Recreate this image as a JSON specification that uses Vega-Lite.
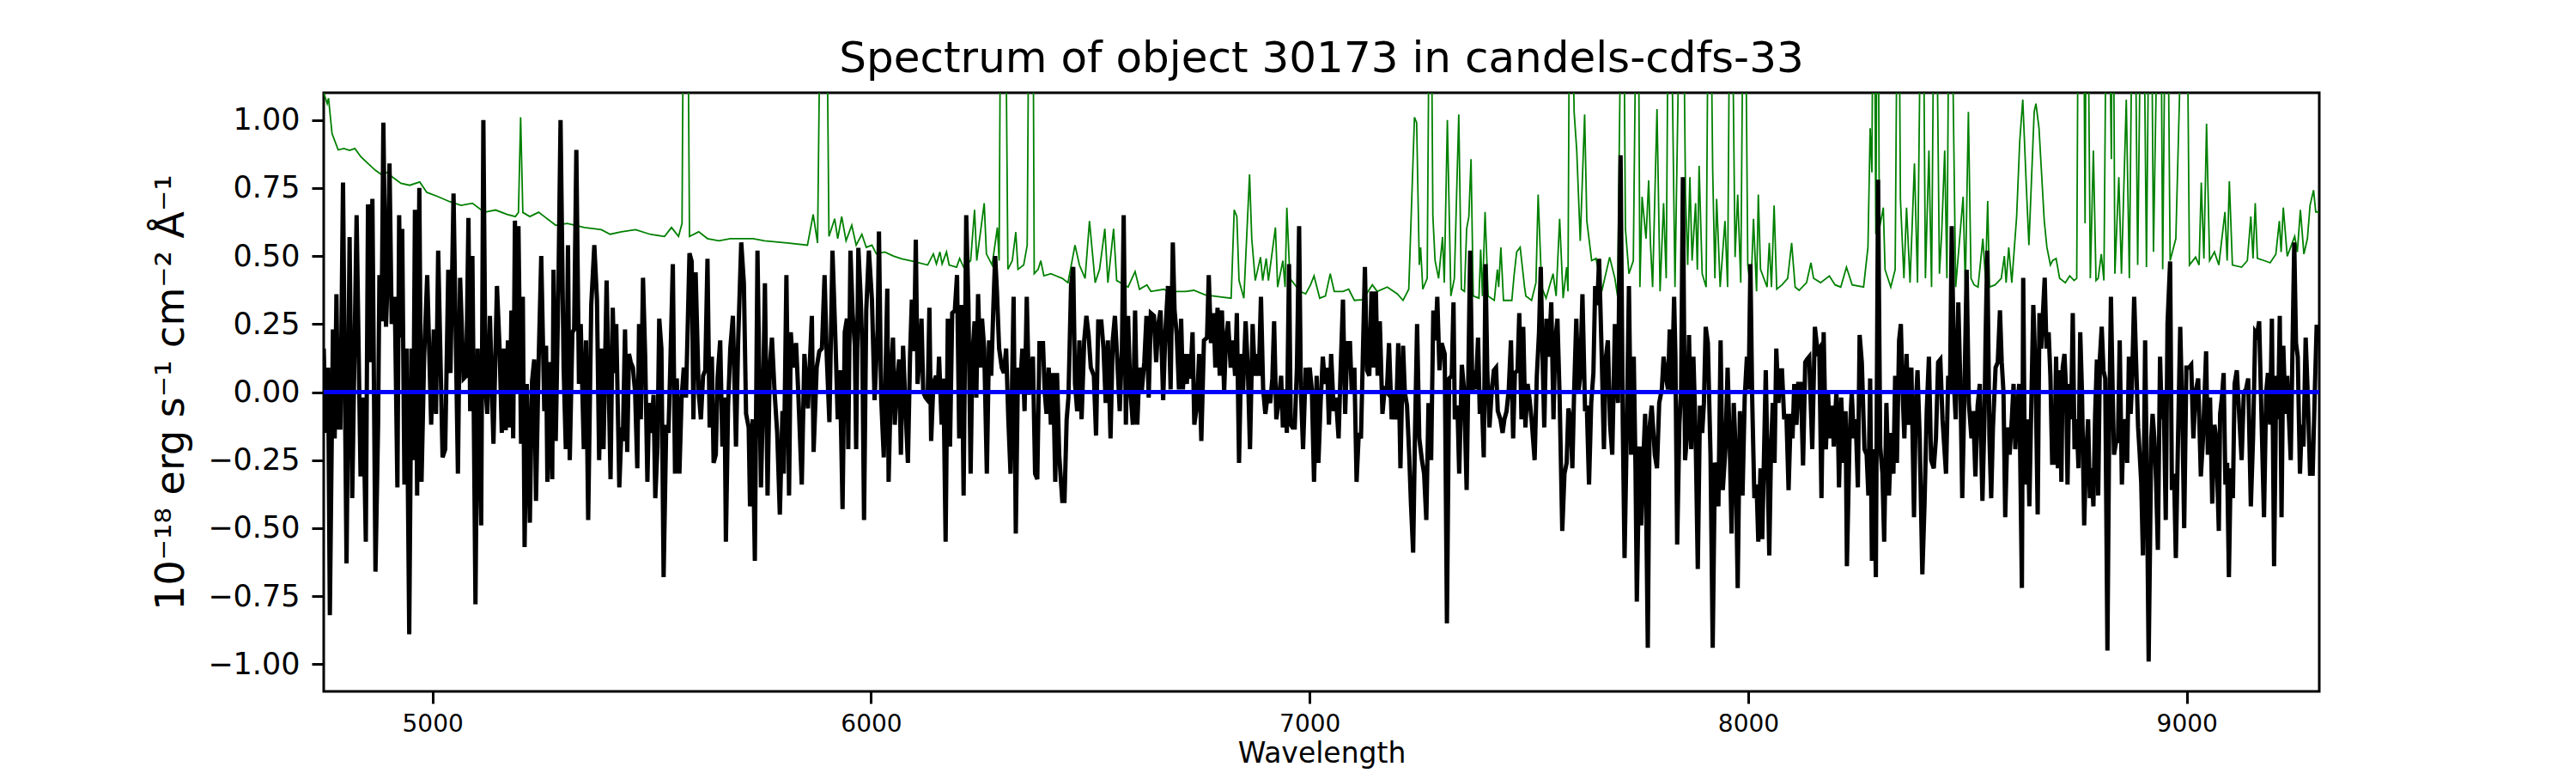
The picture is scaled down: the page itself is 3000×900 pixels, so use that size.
{
  "$schema": "https://vega.github.io/schema/vega-lite/v6.json",
  "width": 2324,
  "height": 697,
  "autosize": {"type": "none"},
  "padding": {"left": 377, "top": 108, "right": 299, "bottom": 95},
  "background": "white",
  "config": {
    "font": "DejaVu Sans",
    "view": {"stroke": "black", "strokeWidth": 3},
    "axis": {
      "grid": false,
      "domain": false,
      "tickColor": "black",
      "tickWidth": 3,
      "tickSize": 14,
      "labelColor": "black",
      "titleColor": "black",
      "labelFont": "DejaVu Sans",
      "titleFont": "DejaVu Sans",
      "titleFontWeight": "normal"
    }
  },
  "title": {
    "text": "Spectrum of object 30173 in candels-cdfs-33",
    "font": "DejaVu Sans",
    "fontSize": 50,
    "fontWeight": "normal",
    "color": "black",
    "anchor": "middle",
    "offset": 14
  },
  "datasets": {
    "spectrum": [
      {"wavelength":4752,"flux":0.16},{"wavelength":4757,"flux":-0.15},{"wavelength":4762,"flux":0.09},{"wavelength":4766,"flux":-0.82},{"wavelength":4773,"flux":0.23},{"wavelength":4777,"flux":-0.17},{"wavelength":4781,"flux":0.36},{"wavelength":4785,"flux":-0.13},{"wavelength":4790,"flux":-0.13},{"wavelength":4796,"flux":0.77},
      {"wavelength":4804,"flux":-0.63},{"wavelength":4811,"flux":0.57},{"wavelength":4817,"flux":-0.39},{"wavelength":4827,"flux":0.65},{"wavelength":4836,"flux":-0.31},{"wavelength":4842,"flux":-0.02},{"wavelength":4848,"flux":-0.55},{"wavelength":4853,"flux":0.69},{"wavelength":4858,"flux":0.11},{"wavelength":4863,"flux":0.71},
      {"wavelength":4870,"flux":-0.66},{"wavelength":4876,"flux":-0.12},{"wavelength":4879,"flux":0.43},{"wavelength":4884,"flux":0.26},{"wavelength":4888,"flux":0.99},{"wavelength":4894,"flux":0.24},{"wavelength":4898,"flux":0.43},{"wavelength":4902,"flux":0.84},{"wavelength":4907,"flux":0.25},{"wavelength":4914,"flux":0.35},
      {"wavelength":4920,"flux":-0.35},{"wavelength":4924,"flux":0.65},{"wavelength":4928,"flux":0.20},{"wavelength":4931,"flux":0.60},{"wavelength":4936,"flux":-0.34},{"wavelength":4941,"flux":0.16},{"wavelength":4947,"flux":-0.89},{"wavelength":4952,"flux":0.16},{"wavelength":4956,"flux":-0.25},{"wavelength":4960,"flux":0.67},
      {"wavelength":4965,"flux":-0.38},{"wavelength":4970,"flux":0.75},{"wavelength":4975,"flux":-0.33},{"wavelength":4981,"flux":0.13},{"wavelength":4988,"flux":0.43},{"wavelength":4997,"flux":-0.12},{"wavelength":5003,"flux":0.23},{"wavelength":5008,"flux":-0.08},{"wavelength":5013,"flux":0.52},{"wavelength":5023,"flux":-0.24},
      {"wavelength":5029,"flux":-0.21},{"wavelength":5036,"flux":0.45},{"wavelength":5041,"flux":0.07},{"wavelength":5048,"flux":0.73},{"wavelength":5058,"flux":-0.30},{"wavelength":5063,"flux":0.42},{"wavelength":5071,"flux":0.05},{"wavelength":5077,"flux":0.06},{"wavelength":5082,"flux":0.64},{"wavelength":5086,"flux":-0.07},
      {"wavelength":5091,"flux":0.50},{"wavelength":5098,"flux":-0.78},{"wavelength":5103,"flux":0.16},{"wavelength":5106,"flux":-0.07},{"wavelength":5111,"flux":-0.49},{"wavelength":5116,"flux":1.00},{"wavelength":5121,"flux":0.01},{"wavelength":5125,"flux":-0.08},{"wavelength":5131,"flux":0.28},{"wavelength":5139,"flux":-0.19},
      {"wavelength":5147,"flux":0.39},{"wavelength":5153,"flux":0.16},{"wavelength":5158,"flux":-0.15},{"wavelength":5163,"flux":0.16},{"wavelength":5167,"flux":-0.14},{"wavelength":5172,"flux":0.19},{"wavelength":5176,"flux":-0.13},{"wavelength":5180,"flux":0.30},{"wavelength":5184,"flux":-0.17},{"wavelength":5188,"flux":0.63},
      {"wavelength":5193,"flux":0.00},{"wavelength":5196,"flux":0.61},{"wavelength":5202,"flux":-0.19},{"wavelength":5206,"flux":0.35},{"wavelength":5210,"flux":-0.57},{"wavelength":5215,"flux":0.03},{"wavelength":5222,"flux":-0.48},{"wavelength":5227,"flux":0.04},{"wavelength":5232,"flux":0.12},{"wavelength":5236,"flux":-0.40},
      {"wavelength":5242,"flux":0.11},{"wavelength":5248,"flux":0.50},{"wavelength":5255,"flux":-0.07},{"wavelength":5259,"flux":0.17},{"wavelength":5262,"flux":-0.33},{"wavelength":5268,"flux":0.11},{"wavelength":5273,"flux":-0.32},{"wavelength":5276,"flux":0.45},{"wavelength":5281,"flux":-0.18},{"wavelength":5287,"flux":0.37},
      {"wavelength":5292,"flux":1.00},{"wavelength":5299,"flux":0.09},{"wavelength":5304,"flux":-0.21},{"wavelength":5309,"flux":0.54},{"wavelength":5313,"flux":-0.25},{"wavelength":5319,"flux":0.22},{"wavelength":5323,"flux":0.23},{"wavelength":5328,"flux":0.89},{"wavelength":5334,"flux":0.03},{"wavelength":5338,"flux":0.25},
      {"wavelength":5345,"flux":-0.21},{"wavelength":5350,"flux":0.19},{"wavelength":5355,"flux":-0.47},{"wavelength":5362,"flux":0.32},{"wavelength":5369,"flux":0.54},{"wavelength":5375,"flux":0.34},{"wavelength":5380,"flux":-0.25},{"wavelength":5385,"flux":0.16},{"wavelength":5390,"flux":-0.21},{"wavelength":5397,"flux":0.41},
      {"wavelength":5401,"flux":0.09},{"wavelength":5406,"flux":-0.32},{"wavelength":5411,"flux":0.31},{"wavelength":5415,"flux":0.07},{"wavelength":5419,"flux":0.25},{"wavelength":5426,"flux":-0.35},{"wavelength":5431,"flux":-0.13},{"wavelength":5434,"flux":-0.18},{"wavelength":5439,"flux":0.23},{"wavelength":5444,"flux":-0.22},
      {"wavelength":5448,"flux":0.14},{"wavelength":5452,"flux":0.11},{"wavelength":5457,"flux":0.09},{"wavelength":5462,"flux":0.00},{"wavelength":5467,"flux":-0.28},{"wavelength":5471,"flux":0.25},{"wavelength":5475,"flux":-0.10},{"wavelength":5480,"flux":0.42},{"wavelength":5485,"flux":0.13},{"wavelength":5490,"flux":-0.33},
      {"wavelength":5494,"flux":-0.04},{"wavelength":5499,"flux":-0.15},{"wavelength":5504,"flux":-0.01},{"wavelength":5508,"flux":-0.39},{"wavelength":5513,"flux":-0.20},{"wavelength":5517,"flux":0.27},{"wavelength":5522,"flux":0.16},{"wavelength":5527,"flux":-0.68},{"wavelength":5533,"flux":-0.12},{"wavelength":5538,"flux":-0.15},
      {"wavelength":5542,"flux":0.08},{"wavelength":5548,"flux":0.47},{"wavelength":5553,"flux":-0.30},{"wavelength":5557,"flux":0.05},{"wavelength":5563,"flux":-0.30},{"wavelength":5568,"flux":-0.02},{"wavelength":5573,"flux":0.09},{"wavelength":5578,"flux":-0.02},{"wavelength":5586,"flux":0.51},{"wavelength":5591,"flux":0.48},
      {"wavelength":5595,"flux":-0.10},{"wavelength":5600,"flux":0.44},{"wavelength":5607,"flux":0.00},{"wavelength":5612,"flux":-0.10},{"wavelength":5617,"flux":0.06},{"wavelength":5622,"flux":0.08},{"wavelength":5627,"flux":0.49},{"wavelength":5632,"flux":-0.13},{"wavelength":5637,"flux":0.13},{"wavelength":5641,"flux":-0.26},
      {"wavelength":5646,"flux":-0.23},{"wavelength":5650,"flux":0.05},{"wavelength":5656,"flux":0.19},{"wavelength":5661,"flux":-0.20},{"wavelength":5666,"flux":-0.02},{"wavelength":5669,"flux":-0.55},{"wavelength":5674,"flux":-0.05},{"wavelength":5679,"flux":0.16},{"wavelength":5685,"flux":0.28},{"wavelength":5692,"flux":-0.20},
      {"wavelength":5697,"flux":0.19},{"wavelength":5704,"flux":0.55},{"wavelength":5710,"flux":0.40},{"wavelength":5715,"flux":-0.08},{"wavelength":5721,"flux":-0.13},{"wavelength":5724,"flux":-0.42},{"wavelength":5730,"flux":-0.10},{"wavelength":5735,"flux":-0.62},{"wavelength":5741,"flux":0.52},{"wavelength":5745,"flux":0.08},
      {"wavelength":5749,"flux":-0.35},{"wavelength":5754,"flux":0.00},{"wavelength":5758,"flux":0.40},{"wavelength":5764,"flux":-0.38},{"wavelength":5769,"flux":0.09},{"wavelength":5774,"flux":0.20},{"wavelength":5780,"flux":0.00},{"wavelength":5786,"flux":-0.15},{"wavelength":5792,"flux":-0.45},{"wavelength":5798,"flux":-0.07},
      {"wavelength":5801,"flux":-0.30},{"wavelength":5807,"flux":0.43},{"wavelength":5813,"flux":-0.38},{"wavelength":5817,"flux":0.22},{"wavelength":5822,"flux":0.09},{"wavelength":5829,"flux":0.18},{"wavelength":5834,"flux":0.00},{"wavelength":5842,"flux":-0.34},{"wavelength":5848,"flux":0.14},{"wavelength":5856,"flux":-0.06},
      {"wavelength":5865,"flux":0.28},{"wavelength":5869,"flux":-0.22},{"wavelength":5876,"flux":0.09},{"wavelength":5882,"flux":0.15},{"wavelength":5888,"flux":0.16},{"wavelength":5894,"flux":0.43},{"wavelength":5899,"flux":0.13},{"wavelength":5905,"flux":-0.11},{"wavelength":5912,"flux":0.52},{"wavelength":5919,"flux":0.18},
      {"wavelength":5924,"flux":-0.10},{"wavelength":5929,"flux":0.08},{"wavelength":5935,"flux":-0.43},{"wavelength":5940,"flux":0.22},{"wavelength":5945,"flux":0.27},{"wavelength":5948,"flux":-0.21},{"wavelength":5953,"flux":0.52},{"wavelength":5958,"flux":0.29},{"wavelength":5963,"flux":0.17},{"wavelength":5966,"flux":-0.21},
      {"wavelength":5971,"flux":0.53},{"wavelength":5976,"flux":0.36},{"wavelength":5980,"flux":0.16},{"wavelength":5984,"flux":-0.47},{"wavelength":5989,"flux":0.30},{"wavelength":5995,"flux":0.52},{"wavelength":6002,"flux":0.34},{"wavelength":6008,"flux":-0.03},{"wavelength":6015,"flux":0.23},{"wavelength":6018,"flux":0.59},
      {"wavelength":6023,"flux":-0.02},{"wavelength":6029,"flux":-0.24},{"wavelength":6037,"flux":0.38},{"wavelength":6040,"flux":-0.33},{"wavelength":6046,"flux":0.09},{"wavelength":6050,"flux":0.20},{"wavelength":6054,"flux":-0.12},{"wavelength":6059,"flux":0.03},{"wavelength":6064,"flux":0.12},{"wavelength":6068,"flux":-0.23},
      {"wavelength":6073,"flux":0.17},{"wavelength":6078,"flux":-0.04},{"wavelength":6084,"flux":-0.26},{"wavelength":6089,"flux":0.14},{"wavelength":6093,"flux":0.34},{"wavelength":6098,"flux":0.15},{"wavelength":6102,"flux":0.56},{"wavelength":6106,"flux":0.03},{"wavelength":6111,"flux":0.14},{"wavelength":6115,"flux":0.27},
      {"wavelength":6119,"flux":0.00},{"wavelength":6124,"flux":-0.02},{"wavelength":6129,"flux":-0.03},{"wavelength":6133,"flux":0.31},{"wavelength":6137,"flux":-0.18},{"wavelength":6142,"flux":0.03},{"wavelength":6148,"flux":0.06},{"wavelength":6152,"flux":0.00},{"wavelength":6155,"flux":0.13},{"wavelength":6161,"flux":-0.12},
      {"wavelength":6165,"flux":0.05},{"wavelength":6170,"flux":-0.55},{"wavelength":6175,"flux":0.27},{"wavelength":6180,"flux":-0.20},{"wavelength":6185,"flux":0.29},{"wavelength":6191,"flux":0.30},{"wavelength":6196,"flux":0.43},{"wavelength":6201,"flux":-0.17},{"wavelength":6206,"flux":0.32},{"wavelength":6211,"flux":-0.38},
      {"wavelength":6217,"flux":0.65},{"wavelength":6222,"flux":0.32},{"wavelength":6227,"flux":-0.30},{"wavelength":6231,"flux":0.13},{"wavelength":6236,"flux":0.26},{"wavelength":6240,"flux":-0.02},{"wavelength":6244,"flux":0.36},{"wavelength":6249,"flux":0.09},{"wavelength":6253,"flux":0.27},{"wavelength":6258,"flux":0.16},
      {"wavelength":6264,"flux":-0.30},{"wavelength":6269,"flux":0.19},{"wavelength":6274,"flux":0.06},{"wavelength":6279,"flux":0.32},{"wavelength":6283,"flux":0.50},{"wavelength":6287,"flux":0.37},{"wavelength":6292,"flux":0.16},{"wavelength":6298,"flux":0.09},{"wavelength":6303,"flux":0.07},{"wavelength":6308,"flux":0.16},
      {"wavelength":6313,"flux":-0.10},{"wavelength":6318,"flux":-0.30},{"wavelength":6325,"flux":0.35},{"wavelength":6330,"flux":-0.52},{"wavelength":6335,"flux":0.09},{"wavelength":6339,"flux":0.00},{"wavelength":6345,"flux":0.16},{"wavelength":6350,"flux":-0.07},{"wavelength":6355,"flux":0.35},{"wavelength":6360,"flux":-0.01},
      {"wavelength":6365,"flux":0.09},{"wavelength":6369,"flux":0.13},{"wavelength":6374,"flux":-0.30},{"wavelength":6379,"flux":-0.32},{"wavelength":6384,"flux":0.18},{"wavelength":6392,"flux":0.18},{"wavelength":6396,"flux":0.00},{"wavelength":6400,"flux":-0.08},{"wavelength":6405,"flux":0.09},{"wavelength":6410,"flux":-0.12},
      {"wavelength":6415,"flux":0.07},{"wavelength":6420,"flux":-0.33},{"wavelength":6424,"flux":0.07},{"wavelength":6429,"flux":-0.23},{"wavelength":6436,"flux":-0.40},{"wavelength":6441,"flux":-0.40},{"wavelength":6446,"flux":-0.10},{"wavelength":6450,"flux":-0.02},{"wavelength":6456,"flux":0.39},{"wavelength":6461,"flux":0.46},
      {"wavelength":6465,"flux":0.03},{"wavelength":6470,"flux":-0.07},{"wavelength":6475,"flux":0.19},{"wavelength":6480,"flux":-0.10},{"wavelength":6486,"flux":0.19},{"wavelength":6491,"flux":0.28},{"wavelength":6496,"flux":0.21},{"wavelength":6501,"flux":0.09},{"wavelength":6508,"flux":0.06},{"wavelength":6513,"flux":-0.16},
      {"wavelength":6518,"flux":0.26},{"wavelength":6525,"flux":0.26},{"wavelength":6530,"flux":0.16},{"wavelength":6535,"flux":-0.04},{"wavelength":6540,"flux":0.19},{"wavelength":6546,"flux":-0.17},{"wavelength":6551,"flux":0.19},{"wavelength":6556,"flux":0.28},{"wavelength":6561,"flux":0.13},{"wavelength":6567,"flux":-0.07},
      {"wavelength":6572,"flux":0.16},{"wavelength":6576,"flux":0.65},{"wavelength":6581,"flux":-0.12},{"wavelength":6586,"flux":0.28},{"wavelength":6591,"flux":0.01},{"wavelength":6597,"flux":-0.12},{"wavelength":6602,"flux":0.30},{"wavelength":6607,"flux":-0.12},{"wavelength":6612,"flux":0.09},{"wavelength":6617,"flux":0.00},
      {"wavelength":6623,"flux":0.11},{"wavelength":6628,"flux":0.28},{"wavelength":6633,"flux":-0.02},{"wavelength":6638,"flux":0.29},{"wavelength":6645,"flux":0.28},{"wavelength":6650,"flux":0.11},{"wavelength":6655,"flux":0.25},{"wavelength":6660,"flux":0.30},{"wavelength":6666,"flux":-0.03},{"wavelength":6671,"flux":0.22},
      {"wavelength":6677,"flux":0.39},{"wavelength":6683,"flux":0.01},{"wavelength":6688,"flux":0.55},{"wavelength":6692,"flux":0.30},{"wavelength":6697,"flux":0.21},{"wavelength":6702,"flux":0.01},{"wavelength":6707,"flux":0.27},{"wavelength":6711,"flux":0.01},{"wavelength":6715,"flux":0.14},{"wavelength":6720,"flux":0.03},
      {"wavelength":6723,"flux":0.14},{"wavelength":6728,"flux":0.05},{"wavelength":6733,"flux":0.22},{"wavelength":6737,"flux":-0.12},{"wavelength":6743,"flux":-0.05},{"wavelength":6748,"flux":0.14},{"wavelength":6753,"flux":-0.18},{"wavelength":6759,"flux":0.19},{"wavelength":6766,"flux":0.20},{"wavelength":6770,"flux":0.43},
      {"wavelength":6775,"flux":0.18},{"wavelength":6781,"flux":0.29},{"wavelength":6785,"flux":0.09},{"wavelength":6790,"flux":0.31},{"wavelength":6795,"flux":0.06},{"wavelength":6800,"flux":0.30},{"wavelength":6805,"flux":0.00},{"wavelength":6809,"flux":0.19},{"wavelength":6814,"flux":0.26},{"wavelength":6820,"flux":0.09},
      {"wavelength":6825,"flux":0.19},{"wavelength":6830,"flux":0.06},{"wavelength":6834,"flux":0.29},{"wavelength":6839,"flux":-0.26},{"wavelength":6844,"flux":0.14},{"wavelength":6848,"flux":0.00},{"wavelength":6854,"flux":0.26},{"wavelength":6859,"flux":0.09},{"wavelength":6864,"flux":-0.21},{"wavelength":6870,"flux":0.25},
      {"wavelength":6875,"flux":0.06},{"wavelength":6880,"flux":0.14},{"wavelength":6884,"flux":0.06},{"wavelength":6889,"flux":0.35},{"wavelength":6894,"flux":0.01},{"wavelength":6899,"flux":-0.08},{"wavelength":6905,"flux":0.00},{"wavelength":6910,"flux":-0.04},{"wavelength":6915,"flux":0.05},{"wavelength":6919,"flux":0.26},
      {"wavelength":6924,"flux":-0.10},{"wavelength":6929,"flux":-0.04},{"wavelength":6935,"flux":0.06},{"wavelength":6939,"flux":-0.13},{"wavelength":6944,"flux":0.01},{"wavelength":6948,"flux":-0.15},{"wavelength":6953,"flux":0.47},{"wavelength":6957,"flux":-0.12},{"wavelength":6961,"flux":-0.13},{"wavelength":6966,"flux":-0.13},
      {"wavelength":6971,"flux":0.09},{"wavelength":6976,"flux":0.61},{"wavelength":6980,"flux":0.01},{"wavelength":6985,"flux":-0.21},{"wavelength":6991,"flux":0.09},{"wavelength":6996,"flux":0.00},{"wavelength":7000,"flux":0.09},{"wavelength":7005,"flux":0.01},{"wavelength":7010,"flux":-0.33},{"wavelength":7016,"flux":0.06},
      {"wavelength":7020,"flux":-0.26},{"wavelength":7025,"flux":-0.04},{"wavelength":7030,"flux":0.13},{"wavelength":7035,"flux":0.03},{"wavelength":7040,"flux":0.09},{"wavelength":7044,"flux":-0.12},{"wavelength":7049,"flux":0.14},{"wavelength":7055,"flux":-0.07},{"wavelength":7060,"flux":-0.02},{"wavelength":7066,"flux":-0.17},
      {"wavelength":7070,"flux":0.05},{"wavelength":7076,"flux":0.34},{"wavelength":7081,"flux":-0.08},{"wavelength":7086,"flux":0.18},{"wavelength":7092,"flux":0.18},{"wavelength":7096,"flux":0.00},{"wavelength":7102,"flux":0.09},{"wavelength":7107,"flux":-0.33},{"wavelength":7112,"flux":-0.15},{"wavelength":7117,"flux":-0.17},
      {"wavelength":7121,"flux":0.11},{"wavelength":7126,"flux":0.46},{"wavelength":7131,"flux":0.08},{"wavelength":7136,"flux":0.06},{"wavelength":7141,"flux":0.37},{"wavelength":7146,"flux":0.09},{"wavelength":7151,"flux":0.37},{"wavelength":7155,"flux":0.06},{"wavelength":7160,"flux":0.26},{"wavelength":7166,"flux":-0.08},
      {"wavelength":7171,"flux":0.01},{"wavelength":7176,"flux":0.00},{"wavelength":7181,"flux":0.18},{"wavelength":7187,"flux":-0.10},{"wavelength":7192,"flux":0.00},{"wavelength":7197,"flux":-0.10},{"wavelength":7202,"flux":0.18},{"wavelength":7207,"flux":-0.28},{"wavelength":7213,"flux":0.17},{"wavelength":7217,"flux":0.00},
      {"wavelength":7222,"flux":-0.05},{"wavelength":7227,"flux":-0.23},{"wavelength":7231,"flux":-0.41},{"wavelength":7236,"flux":-0.59},{"wavelength":7240,"flux":-0.17},{"wavelength":7245,"flux":0.25},{"wavelength":7250,"flux":-0.17},{"wavelength":7256,"flux":-0.25},{"wavelength":7261,"flux":-0.30},{"wavelength":7266,"flux":-0.47},
      {"wavelength":7271,"flux":-0.04},{"wavelength":7277,"flux":-0.25},{"wavelength":7282,"flux":0.30},{"wavelength":7287,"flux":0.19},{"wavelength":7291,"flux":0.35},{"wavelength":7296,"flux":0.08},{"wavelength":7301,"flux":0.18},{"wavelength":7308,"flux":0.14},{"wavelength":7313,"flux":-0.85},{"wavelength":7318,"flux":0.05},
      {"wavelength":7324,"flux":0.06},{"wavelength":7328,"flux":0.33},{"wavelength":7331,"flux":-0.10},{"wavelength":7337,"flux":-0.05},{"wavelength":7341,"flux":-0.30},{"wavelength":7347,"flux":0.10},{"wavelength":7352,"flux":0.01},{"wavelength":7358,"flux":-0.36},{"wavelength":7366,"flux":0.52},{"wavelength":7371,"flux":0.00},
      {"wavelength":7374,"flux":0.08},{"wavelength":7379,"flux":0.01},{"wavelength":7384,"flux":0.20},{"wavelength":7388,"flux":-0.08},{"wavelength":7392,"flux":0.00},{"wavelength":7397,"flux":-0.24},{"wavelength":7401,"flux":0.47},{"wavelength":7405,"flux":0.08},{"wavelength":7410,"flux":-0.13},{"wavelength":7415,"flux":0.00},
      {"wavelength":7420,"flux":0.08},{"wavelength":7425,"flux":0.09},{"wavelength":7429,"flux":-0.07},{"wavelength":7435,"flux":-0.10},{"wavelength":7440,"flux":-0.15},{"wavelength":7444,"flux":-0.10},{"wavelength":7449,"flux":-0.07},{"wavelength":7454,"flux":0.01},{"wavelength":7459,"flux":0.19},{"wavelength":7464,"flux":-0.17},
      {"wavelength":7468,"flux":0.07},{"wavelength":7474,"flux":0.08},{"wavelength":7478,"flux":0.29},{"wavelength":7483,"flux":-0.10},{"wavelength":7487,"flux":0.24},{"wavelength":7492,"flux":-0.13},{"wavelength":7497,"flux":0.03},{"wavelength":7501,"flux":-0.02},{"wavelength":7506,"flux":-0.10},{"wavelength":7513,"flux":-0.25},
      {"wavelength":7518,"flux":0.06},{"wavelength":7523,"flux":0.22},{"wavelength":7527,"flux":0.46},{"wavelength":7531,"flux":0.13},{"wavelength":7535,"flux":-0.13},{"wavelength":7540,"flux":0.27},{"wavelength":7545,"flux":0.13},{"wavelength":7551,"flux":0.33},{"wavelength":7556,"flux":-0.10},{"wavelength":7560,"flux":0.19},
      {"wavelength":7565,"flux":0.27},{"wavelength":7570,"flux":-0.02},{"wavelength":7576,"flux":-0.51},{"wavelength":7581,"flux":-0.30},{"wavelength":7586,"flux":-0.26},{"wavelength":7590,"flux":-0.06},{"wavelength":7595,"flux":-0.10},{"wavelength":7599,"flux":-0.28},{"wavelength":7603,"flux":0.00},{"wavelength":7608,"flux":0.27},
      {"wavelength":7613,"flux":0.00},{"wavelength":7617,"flux":0.06},{"wavelength":7622,"flux":0.36},{"wavelength":7628,"flux":-0.07},{"wavelength":7632,"flux":-0.05},{"wavelength":7637,"flux":-0.34},{"wavelength":7642,"flux":-0.04},{"wavelength":7647,"flux":0.07},{"wavelength":7651,"flux":0.39},{"wavelength":7656,"flux":0.32},
      {"wavelength":7660,"flux":0.49},{"wavelength":7666,"flux":0.13},{"wavelength":7671,"flux":-0.21},{"wavelength":7675,"flux":0.12},{"wavelength":7680,"flux":0.19},{"wavelength":7685,"flux":-0.12},{"wavelength":7690,"flux":-0.23},{"wavelength":7696,"flux":0.25},{"wavelength":7700,"flux":0.06},{"wavelength":7703,"flux":-0.04},
      {"wavelength":7709,"flux":0.87},{"wavelength":7714,"flux":-0.12},{"wavelength":7718,"flux":-0.61},{"wavelength":7723,"flux":-0.15},{"wavelength":7728,"flux":0.39},{"wavelength":7733,"flux":-0.23},{"wavelength":7739,"flux":0.13},{"wavelength":7743,"flux":-0.28},{"wavelength":7746,"flux":-0.77},{"wavelength":7752,"flux":-0.20},
      {"wavelength":7756,"flux":-0.49},{"wavelength":7760,"flux":-0.28},{"wavelength":7765,"flux":-0.08},{"wavelength":7771,"flux":-0.94},{"wavelength":7775,"flux":-0.13},{"wavelength":7780,"flux":-0.05},{"wavelength":7787,"flux":-0.23},{"wavelength":7792,"flux":-0.28},{"wavelength":7797,"flux":-0.04},{"wavelength":7803,"flux":0.01},
      {"wavelength":7807,"flux":0.13},{"wavelength":7812,"flux":0.06},{"wavelength":7817,"flux":0.01},{"wavelength":7821,"flux":0.23},{"wavelength":7826,"flux":0.00},{"wavelength":7831,"flux":0.35},{"wavelength":7834,"flux":0.13},{"wavelength":7838,"flux":-0.56},{"wavelength":7843,"flux":-0.12},{"wavelength":7847,"flux":0.01},
      {"wavelength":7851,"flux":0.79},{"wavelength":7856,"flux":-0.25},{"wavelength":7860,"flux":-0.17},{"wavelength":7865,"flux":0.21},{"wavelength":7870,"flux":-0.21},{"wavelength":7875,"flux":0.13},{"wavelength":7880,"flux":-0.15},{"wavelength":7885,"flux":-0.65},{"wavelength":7890,"flux":-0.05},{"wavelength":7895,"flux":-0.15},
      {"wavelength":7899,"flux":-0.04},{"wavelength":7903,"flux":0.24},{"wavelength":7908,"flux":0.18},{"wavelength":7914,"flux":-0.23},{"wavelength":7919,"flux":-0.94},{"wavelength":7924,"flux":-0.26},{"wavelength":7928,"flux":-0.28},{"wavelength":7932,"flux":-0.42},{"wavelength":7937,"flux":0.19},{"wavelength":7942,"flux":-0.36},
      {"wavelength":7948,"flux":-0.21},{"wavelength":7953,"flux":0.09},{"wavelength":7958,"flux":-0.20},{"wavelength":7962,"flux":-0.52},{"wavelength":7967,"flux":-0.04},{"wavelength":7971,"flux":-0.20},{"wavelength":7976,"flux":-0.72},{"wavelength":7981,"flux":-0.07},{"wavelength":7987,"flux":-0.38},{"wavelength":7992,"flux":-0.02},
      {"wavelength":7997,"flux":0.13},{"wavelength":8001,"flux":0.01},{"wavelength":8005,"flux":0.47},{"wavelength":8009,"flux":-0.02},{"wavelength":8014,"flux":-0.39},{"wavelength":8019,"flux":-0.34},{"wavelength":8023,"flux":-0.55},{"wavelength":8028,"flux":-0.28},{"wavelength":8032,"flux":-0.54},{"wavelength":8036,"flux":-0.23},
      {"wavelength":8040,"flux":0.08},{"wavelength":8044,"flux":-0.26},{"wavelength":8048,"flux":-0.60},{"wavelength":8052,"flux":-0.21},{"wavelength":8056,"flux":-0.04},{"wavelength":8060,"flux":-0.26},{"wavelength":8064,"flux":0.16},{"wavelength":8069,"flux":-0.04},{"wavelength":8073,"flux":0.08},{"wavelength":8077,"flux":0.08},
      {"wavelength":8082,"flux":-0.10},{"wavelength":8087,"flux":-0.08},{"wavelength":8092,"flux":-0.36},{"wavelength":8097,"flux":-0.08},{"wavelength":8101,"flux":-0.17},{"wavelength":8105,"flux":0.03},{"wavelength":8110,"flux":-0.12},{"wavelength":8114,"flux":0.03},{"wavelength":8120,"flux":0.03},{"wavelength":8125,"flux":-0.27},
      {"wavelength":8130,"flux":0.11},{"wavelength":8134,"flux":0.12},{"wavelength":8139,"flux":0.13},{"wavelength":8146,"flux":-0.21},{"wavelength":8152,"flux":0.24},{"wavelength":8158,"flux":0.15},{"wavelength":8162,"flux":0.16},{"wavelength":8167,"flux":-0.39},{"wavelength":8172,"flux":0.22},{"wavelength":8177,"flux":-0.21},
      {"wavelength":8182,"flux":0.00},{"wavelength":8186,"flux":-0.17},{"wavelength":8192,"flux":-0.05},{"wavelength":8195,"flux":-0.20},{"wavelength":8201,"flux":0.00},{"wavelength":8205,"flux":-0.17},{"wavelength":8207,"flux":-0.35},{"wavelength":8212,"flux":-0.02},{"wavelength":8218,"flux":-0.26},{"wavelength":8222,"flux":-0.07},
      {"wavelength":8225,"flux":-0.64},{"wavelength":8231,"flux":-0.17},{"wavelength":8236,"flux":0.00},{"wavelength":8241,"flux":-0.17},{"wavelength":8245,"flux":-0.10},{"wavelength":8250,"flux":-0.35},{"wavelength":8254,"flux":0.21},{"wavelength":8259,"flux":0.11},{"wavelength":8265,"flux":-0.21},{"wavelength":8270,"flux":-0.23},
      {"wavelength":8274,"flux":-0.38},{"wavelength":8278,"flux":0.05},{"wavelength":8282,"flux":-0.62},{"wavelength":8287,"flux":-0.21},{"wavelength":8291,"flux":-0.68},{"wavelength":8296,"flux":0.78},{"wavelength":8301,"flux":-0.20},{"wavelength":8306,"flux":-0.30},{"wavelength":8310,"flux":-0.55},{"wavelength":8315,"flux":-0.04},
      {"wavelength":8321,"flux":-0.38},{"wavelength":8326,"flux":-0.15},{"wavelength":8331,"flux":-0.30},{"wavelength":8335,"flux":0.06},{"wavelength":8339,"flux":-0.26},{"wavelength":8344,"flux":0.19},{"wavelength":8348,"flux":0.25},{"wavelength":8352,"flux":0.00},{"wavelength":8356,"flux":-0.17},{"wavelength":8361,"flux":0.14},
      {"wavelength":8366,"flux":-0.12},{"wavelength":8372,"flux":0.09},{"wavelength":8378,"flux":-0.46},{"wavelength":8382,"flux":-0.05},{"wavelength":8386,"flux":0.08},{"wavelength":8391,"flux":-0.17},{"wavelength":8397,"flux":-0.67},{"wavelength":8402,"flux":-0.41},{"wavelength":8407,"flux":-0.07},{"wavelength":8412,"flux":0.13},
      {"wavelength":8417,"flux":-0.25},{"wavelength":8423,"flux":-0.28},{"wavelength":8428,"flux":-0.17},{"wavelength":8433,"flux":0.11},{"wavelength":8438,"flux":0.12},{"wavelength":8443,"flux":-0.10},{"wavelength":8447,"flux":-0.20},{"wavelength":8451,"flux":-0.30},{"wavelength":8456,"flux":0.06},{"wavelength":8460,"flux":0.00},
      {"wavelength":8464,"flux":0.61},{"wavelength":8470,"flux":0.00},{"wavelength":8473,"flux":-0.10},{"wavelength":8479,"flux":0.33},{"wavelength":8484,"flux":0.01},{"wavelength":8488,"flux":-0.39},{"wavelength":8493,"flux":0.00},{"wavelength":8498,"flux":0.45},{"wavelength":8503,"flux":-0.04},{"wavelength":8509,"flux":-0.17},
      {"wavelength":8513,"flux":-0.07},{"wavelength":8518,"flux":-0.31},{"wavelength":8523,"flux":-0.05},{"wavelength":8528,"flux":0.03},{"wavelength":8534,"flux":-0.40},{"wavelength":8539,"flux":-0.07},{"wavelength":8541,"flux":0.18},{"wavelength":8545,"flux":0.52},{"wavelength":8550,"flux":-0.17},{"wavelength":8554,"flux":-0.39},
      {"wavelength":8558,"flux":-0.13},{"wavelength":8564,"flux":0.09},{"wavelength":8569,"flux":0.11},{"wavelength":8574,"flux":0.30},{"wavelength":8578,"flux":0.11},{"wavelength":8582,"flux":0.00},{"wavelength":8586,"flux":-0.46},{"wavelength":8591,"flux":-0.13},{"wavelength":8596,"flux":-0.23},{"wavelength":8601,"flux":-0.10},
      {"wavelength":8605,"flux":0.03},{"wavelength":8609,"flux":-0.21},{"wavelength":8613,"flux":-0.07},{"wavelength":8618,"flux":0.03},{"wavelength":8624,"flux":-0.72},{"wavelength":8627,"flux":0.42},{"wavelength":8631,"flux":-0.34},{"wavelength":8637,"flux":-0.10},{"wavelength":8641,"flux":-0.42},{"wavelength":8646,"flux":0.00},
      {"wavelength":8650,"flux":0.32},{"wavelength":8655,"flux":0.08},{"wavelength":8660,"flux":-0.45},{"wavelength":8664,"flux":0.29},{"wavelength":8668,"flux":0.16},{"wavelength":8672,"flux":0.29},{"wavelength":8676,"flux":0.42},{"wavelength":8680,"flux":0.16},{"wavelength":8685,"flux":0.22},{"wavelength":8689,"flux":0.06},
      {"wavelength":8693,"flux":-0.26},{"wavelength":8698,"flux":-0.26},{"wavelength":8702,"flux":0.13},{"wavelength":8706,"flux":-0.28},{"wavelength":8710,"flux":0.08},{"wavelength":8714,"flux":-0.33},{"wavelength":8717,"flux":0.09},{"wavelength":8721,"flux":0.14},{"wavelength":8725,"flux":0.00},{"wavelength":8728,"flux":-0.34},
      {"wavelength":8732,"flux":0.03},{"wavelength":8736,"flux":-0.10},{"wavelength":8740,"flux":0.29},{"wavelength":8744,"flux":-0.21},{"wavelength":8749,"flux":-0.10},{"wavelength":8753,"flux":-0.28},{"wavelength":8757,"flux":0.22},{"wavelength":8761,"flux":0.00},{"wavelength":8766,"flux":-0.49},{"wavelength":8770,"flux":-0.25},
      {"wavelength":8775,"flux":-0.10},{"wavelength":8779,"flux":-0.39},{"wavelength":8783,"flux":-0.28},{"wavelength":8787,"flux":-0.42},{"wavelength":8791,"flux":-0.08},{"wavelength":8795,"flux":0.12},{"wavelength":8798,"flux":-0.38},{"wavelength":8802,"flux":0.13},{"wavelength":8806,"flux":0.24},{"wavelength":8810,"flux":0.08},
      {"wavelength":8814,"flux":0.05},{"wavelength":8819,"flux":-0.95},{"wavelength":8823,"flux":-0.13},{"wavelength":8827,"flux":0.35},{"wavelength":8831,"flux":0.00},{"wavelength":8834,"flux":-0.23},{"wavelength":8839,"flux":-0.18},{"wavelength":8843,"flux":-0.18},{"wavelength":8847,"flux":0.19},{"wavelength":8852,"flux":-0.34},
      {"wavelength":8856,"flux":-0.13},{"wavelength":8860,"flux":-0.10},{"wavelength":8864,"flux":-0.26},{"wavelength":8868,"flux":0.13},{"wavelength":8872,"flux":-0.08},{"wavelength":8875,"flux":0.03},{"wavelength":8880,"flux":0.35},{"wavelength":8885,"flux":0.08},{"wavelength":8889,"flux":-0.13},{"wavelength":8892,"flux":-0.21},
      {"wavelength":8896,"flux":-0.33},{"wavelength":8900,"flux":-0.60},{"wavelength":8905,"flux":0.19},{"wavelength":8909,"flux":-0.33},{"wavelength":8913,"flux":-0.99},{"wavelength":8919,"flux":-0.17},{"wavelength":8922,"flux":-0.08},{"wavelength":8926,"flux":-0.17},{"wavelength":8930,"flux":-0.33},{"wavelength":8934,"flux":-0.58},
      {"wavelength":8939,"flux":0.13},{"wavelength":8943,"flux":-0.10},{"wavelength":8947,"flux":0.00},{"wavelength":8952,"flux":-0.47},{"wavelength":8956,"flux":0.25},{"wavelength":8962,"flux":0.48},{"wavelength":8966,"flux":-0.36},{"wavelength":8971,"flux":-0.30},{"wavelength":8975,"flux":-0.61},{"wavelength":8980,"flux":-0.17},
      {"wavelength":8985,"flux":0.24},{"wavelength":8990,"flux":-0.10},{"wavelength":8994,"flux":-0.50},{"wavelength":8999,"flux":0.09},{"wavelength":9005,"flux":0.09},{"wavelength":9010,"flux":0.10},{"wavelength":9015,"flux":-0.17},{"wavelength":9020,"flux":0.00},{"wavelength":9026,"flux":0.05},{"wavelength":9032,"flux":-0.31},
      {"wavelength":9037,"flux":-0.17},{"wavelength":9044,"flux":0.15},{"wavelength":9048,"flux":-0.23},{"wavelength":9053,"flux":-0.02},{"wavelength":9058,"flux":-0.41},{"wavelength":9063,"flux":-0.12},{"wavelength":9067,"flux":-0.17},{"wavelength":9073,"flux":-0.51},{"wavelength":9076,"flux":-0.08},{"wavelength":9080,"flux":-0.02},
      {"wavelength":9084,"flux":0.07},{"wavelength":9088,"flux":-0.34},{"wavelength":9092,"flux":-0.26},{"wavelength":9096,"flux":-0.68},{"wavelength":9100,"flux":-0.28},{"wavelength":9105,"flux":-0.39},{"wavelength":9109,"flux":0.03},{"wavelength":9114,"flux":0.08},{"wavelength":9120,"flux":-0.10},{"wavelength":9125,"flux":-0.25},
      {"wavelength":9130,"flux":0.00},{"wavelength":9135,"flux":0.01},{"wavelength":9140,"flux":0.05},{"wavelength":9146,"flux":-0.42},{"wavelength":9151,"flux":-0.17},{"wavelength":9156,"flux":0.22},{"wavelength":9160,"flux":0.21},{"wavelength":9165,"flux":0.26},{"wavelength":9170,"flux":-0.07},{"wavelength":9176,"flux":-0.46},
      {"wavelength":9181,"flux":0.00},{"wavelength":9185,"flux":0.07},{"wavelength":9190,"flux":-0.12},{"wavelength":9194,"flux":0.27},{"wavelength":9199,"flux":-0.64},{"wavelength":9204,"flux":0.06},{"wavelength":9208,"flux":-0.10},{"wavelength":9212,"flux":0.28},{"wavelength":9216,"flux":-0.46},{"wavelength":9220,"flux":0.17},
      {"wavelength":9225,"flux":-0.08},{"wavelength":9229,"flux":0.06},{"wavelength":9233,"flux":-0.10},{"wavelength":9237,"flux":-0.25},{"wavelength":9241,"flux":0.16},{"wavelength":9245,"flux":0.55},{"wavelength":9249,"flux":0.18},{"wavelength":9253,"flux":0.13},{"wavelength":9258,"flux":-0.30},{"wavelength":9262,"flux":-0.12},
      {"wavelength":9266,"flux":-0.20},{"wavelength":9271,"flux":0.20},{"wavelength":9276,"flux":-0.02},{"wavelength":9281,"flux":-0.30},{"wavelength":9287,"flux":-0.30},{"wavelength":9292,"flux":0.01},{"wavelength":9296,"flux":0.24},{"wavelength":9302,"flux":0.24}
    ],
    "noise": [
      {"wavelength":4752,"flux":1.10},{"wavelength":4760,"flux":1.06},{"wavelength":4763,"flux":1.08},{"wavelength":4771,"flux":0.95},{"wavelength":4785,"flux":0.89},{"wavelength":4798,"flux":0.895},{"wavelength":4811,"flux":0.888},{"wavelength":4823,"flux":0.895},{"wavelength":4837,"flux":0.864},{"wavelength":4853,"flux":0.84},
      {"wavelength":4870,"flux":0.815},{"wavelength":4883,"flux":0.80},{"wavelength":4896,"flux":0.807},{"wavelength":4909,"flux":0.79},{"wavelength":4928,"flux":0.767},{"wavelength":4948,"flux":0.76},{"wavelength":4971,"flux":0.772},{"wavelength":4987,"flux":0.734},{"wavelength":5013,"flux":0.718},{"wavelength":5039,"flux":0.70},
      {"wavelength":5065,"flux":0.686},{"wavelength":5091,"flux":0.694},{"wavelength":5118,"flux":0.661},{"wavelength":5144,"flux":0.669},{"wavelength":5170,"flux":0.653},{"wavelength":5189,"flux":0.645},{"wavelength":5196,"flux":0.66},{"wavelength":5201,"flux":1.01},{"wavelength":5206,"flux":0.66},{"wavelength":5222,"flux":0.645},
      {"wavelength":5242,"flux":0.661},{"wavelength":5255,"flux":0.645},{"wavelength":5281,"flux":0.613},{"wavelength":5307,"flux":0.62},{"wavelength":5326,"flux":0.613},{"wavelength":5346,"flux":0.605},{"wavelength":5385,"flux":0.597},{"wavelength":5405,"flux":0.58},{"wavelength":5431,"flux":0.589},{"wavelength":5463,"flux":0.597},
      {"wavelength":5496,"flux":0.58},{"wavelength":5529,"flux":0.572},{"wavelength":5545,"flux":0.605},{"wavelength":5561,"flux":0.572},{"wavelength":5569,"flux":0.62},{"wavelength":5574,"flux":2.0},{"wavelength":5580,"flux":2.0},{"wavelength":5586,"flux":0.572},{"wavelength":5607,"flux":0.589},{"wavelength":5627,"flux":0.564},
      {"wavelength":5653,"flux":0.556},{"wavelength":5679,"flux":0.564},{"wavelength":5705,"flux":0.564},{"wavelength":5731,"flux":0.564},{"wavelength":5757,"flux":0.556},{"wavelength":5809,"flux":0.548},{"wavelength":5855,"flux":0.54},{"wavelength":5868,"flux":0.653},{"wavelength":5878,"flux":0.548},{"wavelength":5888,"flux":2.0},
      {"wavelength":5896,"flux":2.0},{"wavelength":5904,"flux":0.572},{"wavelength":5917,"flux":0.637},{"wavelength":5924,"flux":0.564},{"wavelength":5933,"flux":0.645},{"wavelength":5943,"flux":0.556},{"wavelength":5956,"flux":0.613},{"wavelength":5966,"flux":0.54},{"wavelength":5979,"flux":0.58},{"wavelength":5989,"flux":0.532},
      {"wavelength":6002,"flux":0.54},{"wavelength":6012,"flux":0.508},{"wavelength":6031,"flux":0.515},{"wavelength":6051,"flux":0.50},{"wavelength":6070,"flux":0.49},{"wavelength":6097,"flux":0.48},{"wavelength":6129,"flux":0.467},{"wavelength":6142,"flux":0.508},{"wavelength":6149,"flux":0.471},{"wavelength":6157,"flux":0.515},
      {"wavelength":6162,"flux":0.471},{"wavelength":6172,"flux":0.515},{"wavelength":6178,"flux":0.467},{"wavelength":6195,"flux":0.459},{"wavelength":6202,"flux":0.491},{"wavelength":6211,"flux":0.459},{"wavelength":6227,"flux":0.483},{"wavelength":6236,"flux":0.67},{"wavelength":6241,"flux":0.483},{"wavelength":6258,"flux":0.694},
      {"wavelength":6263,"flux":0.508},{"wavelength":6276,"flux":0.467},{"wavelength":6288,"flux":0.605},{"wavelength":6292,"flux":0.483},{"wavelength":6297,"flux":2.0},{"wavelength":6304,"flux":2.0},{"wavelength":6312,"flux":0.451},{"wavelength":6322,"flux":0.483},{"wavelength":6330,"flux":0.588},{"wavelength":6335,"flux":0.451},
      {"wavelength":6348,"flux":0.467},{"wavelength":6356,"flux":0.54},{"wavelength":6362,"flux":2.0},{"wavelength":6368,"flux":2.0},{"wavelength":6372,"flux":0.435},{"wavelength":6381,"flux":0.451},{"wavelength":6387,"flux":0.483},{"wavelength":6394,"flux":0.427},{"wavelength":6410,"flux":0.435},{"wavelength":6422,"flux":0.427},
      {"wavelength":6436,"flux":0.418},{"wavelength":6449,"flux":0.402},{"wavelength":6465,"flux":0.54},{"wavelength":6475,"flux":0.467},{"wavelength":6488,"flux":0.418},{"wavelength":6498,"flux":0.629},{"wavelength":6511,"flux":0.402},{"wavelength":6521,"flux":0.451},{"wavelength":6533,"flux":0.60},{"wavelength":6540,"flux":0.402},
      {"wavelength":6553,"flux":0.60},{"wavelength":6560,"flux":0.41},{"wavelength":6586,"flux":0.386},{"wavelength":6602,"flux":0.443},{"wavelength":6612,"flux":0.378},{"wavelength":6629,"flux":0.394},{"wavelength":6638,"flux":0.37},{"wavelength":6668,"flux":0.378},{"wavelength":6684,"flux":0.361},{"wavelength":6697,"flux":0.37},
      {"wavelength":6717,"flux":0.37},{"wavelength":6736,"flux":0.374},{"wavelength":6762,"flux":0.357},{"wavelength":6795,"flux":0.35},{"wavelength":6821,"flux":0.345},{"wavelength":6828,"flux":0.67},{"wavelength":6834,"flux":0.645},{"wavelength":6839,"flux":0.41},{"wavelength":6850,"flux":0.345},{"wavelength":6863,"flux":0.80},
      {"wavelength":6868,"flux":0.564},{"wavelength":6876,"flux":0.41},{"wavelength":6888,"flux":0.496},{"wavelength":6893,"flux":0.41},{"wavelength":6901,"flux":0.491},{"wavelength":6906,"flux":0.41},{"wavelength":6922,"flux":0.605},{"wavelength":6927,"flux":0.386},{"wavelength":6939,"flux":0.483},{"wavelength":6944,"flux":0.386},
      {"wavelength":6948,"flux":0.678},{"wavelength":6955,"flux":0.418},{"wavelength":6978,"flux":0.37},{"wavelength":6991,"flux":0.361},{"wavelength":7002,"flux":0.394},{"wavelength":7010,"flux":0.427},{"wavelength":7023,"flux":0.345},{"wavelength":7036,"flux":0.353},{"wavelength":7047,"flux":0.435},{"wavelength":7056,"flux":0.37},
      {"wavelength":7076,"flux":0.37},{"wavelength":7089,"flux":0.378},{"wavelength":7102,"flux":0.337},{"wavelength":7121,"flux":0.34},{"wavelength":7143,"flux":0.394},{"wavelength":7154,"flux":0.37},{"wavelength":7177,"flux":0.386},{"wavelength":7200,"flux":0.361},{"wavelength":7213,"flux":0.337},{"wavelength":7226,"flux":0.378},
      {"wavelength":7239,"flux":1.01},{"wavelength":7244,"flux":0.99},{"wavelength":7250,"flux":0.467},{"wavelength":7253,"flux":0.532},{"wavelength":7258,"flux":0.378},{"wavelength":7268,"flux":0.418},{"wavelength":7275,"flux":2.0},{"wavelength":7281,"flux":0.645},{"wavelength":7286,"flux":0.483},{"wavelength":7294,"flux":0.418},
      {"wavelength":7303,"flux":0.57},{"wavelength":7307,"flux":0.402},{"wavelength":7314,"flux":1.0},{"wavelength":7322,"flux":0.353},{"wavelength":7330,"flux":0.418},{"wavelength":7340,"flux":1.02},{"wavelength":7346,"flux":0.378},{"wavelength":7353,"flux":0.37},{"wavelength":7358,"flux":0.6},{"wavelength":7363,"flux":0.645},
      {"wavelength":7368,"flux":0.856},{"wavelength":7373,"flux":0.353},{"wavelength":7386,"flux":0.345},{"wavelength":7390,"flux":0.524},{"wavelength":7394,"flux":0.353},{"wavelength":7400,"flux":0.662},{"wavelength":7407,"flux":0.353},{"wavelength":7421,"flux":0.337},{"wavelength":7428,"flux":0.45},{"wavelength":7431,"flux":0.386},
      {"wavelength":7436,"flux":0.532},{"wavelength":7442,"flux":0.337},{"wavelength":7461,"flux":0.337},{"wavelength":7466,"flux":0.427},{"wavelength":7472,"flux":0.515},{"wavelength":7480,"flux":0.532},{"wavelength":7490,"flux":0.386},{"wavelength":7493,"flux":0.353},{"wavelength":7506,"flux":0.337},{"wavelength":7516,"flux":0.402},
      {"wavelength":7521,"flux":0.726},{"wavelength":7529,"flux":0.386},{"wavelength":7539,"flux":0.345},{"wavelength":7555,"flux":0.435},{"wavelength":7562,"flux":0.353},{"wavelength":7570,"flux":0.637},{"wavelength":7578,"flux":0.345},{"wavelength":7586,"flux":0.459},{"wavelength":7589,"flux":0.37},{"wavelength":7594,"flux":2.0},
      {"wavelength":7603,"flux":1.03},{"wavelength":7609,"flux":0.888},{"wavelength":7617,"flux":0.556},{"wavelength":7627,"flux":1.02},{"wavelength":7632,"flux":0.629},{"wavelength":7643,"flux":0.483},{"wavelength":7653,"flux":0.491},{"wavelength":7666,"flux":0.37},{"wavelength":7684,"flux":0.496},{"wavelength":7696,"flux":0.418},
      {"wavelength":7702,"flux":0.353},{"wavelength":7714,"flux":2.0},{"wavelength":7720,"flux":0.6},{"wavelength":7728,"flux":0.435},{"wavelength":7738,"flux":0.483},{"wavelength":7748,"flux":2.0},{"wavelength":7753,"flux":0.386},{"wavelength":7758,"flux":0.718},{"wavelength":7767,"flux":0.564},{"wavelength":7773,"flux":0.778},
      {"wavelength":7777,"flux":0.548},{"wavelength":7782,"flux":0.386},{"wavelength":7792,"flux":1.04},{"wavelength":7799,"flux":0.37},{"wavelength":7807,"flux":0.694},{"wavelength":7813,"flux":0.418},{"wavelength":7820,"flux":2.0},{"wavelength":7833,"flux":0.386},{"wavelength":7849,"flux":2.0},{"wavelength":7857,"flux":0.726},
      {"wavelength":7862,"flux":0.467},{"wavelength":7867,"flux":0.79},{"wavelength":7872,"flux":0.483},{"wavelength":7880,"flux":0.694},{"wavelength":7884,"flux":0.45},{"wavelength":7888,"flux":0.832},{"wavelength":7895,"flux":0.435},{"wavelength":7904,"flux":0.386},{"wavelength":7911,"flux":2.0},{"wavelength":7919,"flux":0.815},
      {"wavelength":7924,"flux":0.418},{"wavelength":7928,"flux":0.71},{"wavelength":7936,"flux":0.386},{"wavelength":7947,"flux":0.629},{"wavelength":7953,"flux":0.386},{"wavelength":7960,"flux":2.0},{"wavelength":7970,"flux":0.496},{"wavelength":7976,"flux":0.726},{"wavelength":7983,"flux":0.402},{"wavelength":7991,"flux":2.0},
      {"wavelength":7999,"flux":0.467},{"wavelength":8006,"flux":0.37},{"wavelength":8012,"flux":0.637},{"wavelength":8019,"flux":0.37},{"wavelength":8023,"flux":0.726},{"wavelength":8028,"flux":0.451},{"wavelength":8043,"flux":0.386},{"wavelength":8048,"flux":0.548},{"wavelength":8053,"flux":0.386},{"wavelength":8059,"flux":0.686},
      {"wavelength":8065,"flux":0.378},{"wavelength":8077,"flux":0.394},{"wavelength":8090,"flux":0.418},{"wavelength":8099,"flux":0.548},{"wavelength":8107,"flux":0.386},{"wavelength":8116,"flux":0.374},{"wavelength":8133,"flux":0.402},{"wavelength":8143,"flux":0.475},{"wavelength":8149,"flux":0.418},{"wavelength":8165,"flux":0.402},
      {"wavelength":8185,"flux":0.427},{"wavelength":8198,"flux":0.394},{"wavelength":8211,"flux":0.386},{"wavelength":8224,"flux":0.459},{"wavelength":8237,"flux":0.394},{"wavelength":8263,"flux":0.386},{"wavelength":8273,"flux":0.532},{"wavelength":8278,"flux":0.97},{"wavelength":8282,"flux":0.807},{"wavelength":8286,"flux":2.0},
      {"wavelength":8291,"flux":0.58},{"wavelength":8295,"flux":2.0},{"wavelength":8299,"flux":0.6},{"wavelength":8308,"flux":0.678},{"wavelength":8312,"flux":0.45},{"wavelength":8325,"flux":0.386},{"wavelength":8335,"flux":0.45},{"wavelength":8342,"flux":2.0},{"wavelength":8347,"flux":0.71},{"wavelength":8355,"flux":0.418},
      {"wavelength":8361,"flux":0.678},{"wavelength":8369,"flux":0.402},{"wavelength":8379,"flux":0.84},{"wavelength":8386,"flux":0.402},{"wavelength":8397,"flux":2.0},{"wavelength":8404,"flux":0.418},{"wavelength":8412,"flux":0.888},{"wavelength":8418,"flux":0.386},{"wavelength":8426,"flux":2.0},{"wavelength":8436,"flux":0.435},
      {"wavelength":8441,"flux":0.58},{"wavelength":8448,"flux":0.888},{"wavelength":8453,"flux":0.418},{"wavelength":8460,"flux":2.0},{"wavelength":8473,"flux":0.386},{"wavelength":8490,"flux":0.718},{"wavelength":8495,"flux":0.386},{"wavelength":8502,"flux":1.03},{"wavelength":8508,"flux":0.418},{"wavelength":8515,"flux":0.394},
      {"wavelength":8524,"flux":0.386},{"wavelength":8535,"flux":0.564},{"wavelength":8541,"flux":0.418},{"wavelength":8546,"flux":0.702},{"wavelength":8550,"flux":0.386},{"wavelength":8563,"flux":0.394},{"wavelength":8577,"flux":0.418},{"wavelength":8584,"flux":0.50},{"wavelength":8588,"flux":0.402},{"wavelength":8594,"flux":0.532},
      {"wavelength":8601,"flux":0.402},{"wavelength":8612,"flux":0.645},{"wavelength":8619,"flux":0.92},{"wavelength":8626,"flux":1.075},{"wavelength":8634,"flux":0.759},{"wavelength":8640,"flux":0.54},{"wavelength":8652,"flux":1.03},{"wavelength":8656,"flux":1.06},{"wavelength":8663,"flux":0.97},{"wavelength":8667,"flux":0.856},
      {"wavelength":8675,"flux":0.629},{"wavelength":8681,"flux":0.532},{"wavelength":8689,"flux":0.467},{"wavelength":8694,"flux":0.483},{"wavelength":8702,"flux":0.491},{"wavelength":8710,"flux":0.418},{"wavelength":8723,"flux":0.402},{"wavelength":8733,"flux":0.427},{"wavelength":8743,"flux":0.41},{"wavelength":8749,"flux":0.418},
      {"wavelength":8754,"flux":2.0},{"wavelength":8763,"flux":2.0},{"wavelength":8768,"flux":0.62},{"wavelength":8772,"flux":2.0},{"wavelength":8780,"flux":0.418},{"wavelength":8787,"flux":0.888},{"wavelength":8793,"flux":0.41},{"wavelength":8798,"flux":0.418},{"wavelength":8805,"flux":0.507},{"wavelength":8811,"flux":0.41},
      {"wavelength":8819,"flux":2.0},{"wavelength":8828,"flux":0.856},{"wavelength":8831,"flux":2.0},{"wavelength":8836,"flux":0.435},{"wavelength":8845,"flux":0.79},{"wavelength":8851,"flux":0.435},{"wavelength":8862,"flux":1.075},{"wavelength":8869,"flux":0.418},{"wavelength":8879,"flux":2.0},{"wavelength":8888,"flux":0.467},
      {"wavelength":8899,"flux":2.0},{"wavelength":8908,"flux":0.459},{"wavelength":8917,"flux":2.0},{"wavelength":8924,"flux":0.515},{"wavelength":8939,"flux":2.0},{"wavelength":8945,"flux":0.451},{"wavelength":8954,"flux":2.0},{"wavelength":8962,"flux":0.483},{"wavelength":8975,"flux":0.564},{"wavelength":8998,"flux":2.0},
      {"wavelength":9006,"flux":0.467},{"wavelength":9020,"flux":0.496},{"wavelength":9028,"flux":0.467},{"wavelength":9033,"flux":0.77},{"wavelength":9039,"flux":0.491},{"wavelength":9045,"flux":0.986},{"wavelength":9052,"flux":0.483},{"wavelength":9063,"flux":0.515},{"wavelength":9073,"flux":0.467},{"wavelength":9087,"flux":0.662},
      {"wavelength":9092,"flux":0.483},{"wavelength":9097,"flux":0.775},{"wavelength":9104,"flux":0.467},{"wavelength":9125,"flux":0.459},{"wavelength":9138,"flux":0.483},{"wavelength":9146,"flux":0.645},{"wavelength":9151,"flux":0.491},{"wavelength":9156,"flux":0.694},{"wavelength":9161,"flux":0.491},{"wavelength":9177,"flux":0.483},
      {"wavelength":9190,"flux":0.475},{"wavelength":9203,"flux":0.507},{"wavelength":9211,"flux":0.629},{"wavelength":9215,"flux":0.515},{"wavelength":9220,"flux":0.678},{"wavelength":9229,"flux":0.499},{"wavelength":9246,"flux":0.572},{"wavelength":9252,"flux":0.515},{"wavelength":9259,"flux":0.67},{"wavelength":9267,"flux":0.507},
      {"wavelength":9275,"flux":0.564},{"wavelength":9281,"flux":0.686},{"wavelength":9289,"flux":0.742},{"wavelength":9294,"flux":0.662},{"wavelength":9301,"flux":0.662}
    ],
    "zero": [
      {"wavelength":4752,"flux":0},{"wavelength":9302,"flux":0}
    ]
  },
  "encoding": {
    "x": {
      "field": "wavelength",
      "type": "quantitative",
      "scale": {"domain": [4752, 9302], "nice": false, "zero": false},
      "axis": {
        "values": [5000, 6000, 7000, 8000, 9000],
        "format": "d",
        "title": "Wavelength",
        "labelFontSize": 28,
        "titleFontSize": 33,
        "labelPadding": 10,
        "titlePadding": 4
      }
    },
    "y": {
      "field": "flux",
      "type": "quantitative",
      "scale": {"domain": [-1.1, 1.1], "nice": false, "zero": false},
      "axis": {
        "values": [-1, -0.75, -0.5, -0.25, 0, 0.25, 0.5, 0.75, 1],
        "format": ".2f",
        "title": "10⁻¹⁸ erg s⁻¹ cm⁻² Å⁻¹",
        "labelFontSize": 35,
        "titleFontSize": 46,
        "labelPadding": 14,
        "titlePadding": 18
      }
    }
  },
  "layer": [
    {
      "data": {"name": "noise"},
      "mark": {"type": "line", "color": "#008000", "strokeWidth": 1.8, "clip": true}
    },
    {
      "data": {"name": "spectrum"},
      "mark": {"type": "line", "color": "#000000", "strokeWidth": 5, "clip": true}
    },
    {
      "data": {"name": "zero"},
      "mark": {"type": "line", "color": "#0000ff", "strokeWidth": 5, "clip": true}
    }
  ]
}
